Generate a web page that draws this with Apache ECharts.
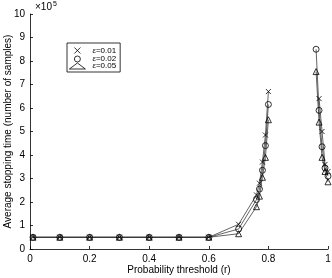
<!DOCTYPE html>
<html>
<head>
<meta charset="utf-8">
<script src="https://cdn.jsdelivr.net/npm/echarts@6/dist/echarts.min.js"></script>
<style>
html,body{margin:0;padding:0;background:#fff;}
#chart{width:332px;height:278px;}
</style>
</head>
<body>
<div id="chart"></div>
<script>
// Values in units of 10^5 samples
var seriesNames = ['ε=0.01', 'ε=0.02', 'ε=0.05'];
var xTicks = [0, 0.2, 0.4, 0.6, 0.8, 1];
var yTicks = [0, 1, 2, 3, 4, 5, 6, 7, 8, 9, 10];

var xLeft = [0.01, 0.1, 0.2, 0.3, 0.4, 0.5, 0.6, 0.7, 0.76, 0.77, 0.78, 0.79, 0.8];
var yLeft001 = [0.5, 0.5, 0.5, 0.5, 0.5, 0.5, 0.5, 1.05, 2.3, 2.8, 3.7, 4.85, 6.7];
var yLeft002 = [0.5, 0.5, 0.5, 0.5, 0.5, 0.5, 0.5, 0.85, 2.1, 2.55, 3.35, 4.4, 6.15];
var yLeft005 = [0.5, 0.5, 0.5, 0.5, 0.5, 0.5, 0.5, 0.65, 1.8, 2.25, 3.05, 3.9, 5.5];

var xRight001 = [0.97, 0.98, 0.99, 1.0];
var yRight001 = [6.4, 5.0, 3.6, 3.3];
var xRight002 = [0.96, 0.97, 0.98, 0.99, 1.0];
var yRight002 = [8.5, 5.9, 4.35, 3.45, 3.1];
var xRight005 = [0.96, 0.97, 0.98, 0.99, 1.0];
var yRight005 = [7.55, 5.4, 3.9, 3.3, 2.86];

var crossPath = 'path://M0,0L10,10M10,0L0,10';
var symbols = [crossPath, 'circle', 'triangle'];
var symbolSizes = [5, 6, 6];

function pairs(xs, ys) {
  return xs.map(function (x, i) { return [x, ys[i]]; });
}

var branches = [
  [pairs(xLeft, yLeft001), pairs(xRight001, yRight001)],
  [pairs(xLeft, yLeft002), pairs(xRight002, yRight002)],
  [pairs(xLeft, yLeft005), pairs(xRight005, yRight005)]
];

var series = [];
branches.forEach(function (b, k) {
  b.forEach(function (data) {
    series.push({
      name: seriesNames[k],
      type: 'line',
      data: data,
      symbol: symbols[k],
      symbolSize: symbolSizes[k],
      showAllSymbol: true,
      animation: false,
      lineStyle: { color: '#222', width: 0.7 },
      itemStyle: { color: 'rgba(0,0,0,0)', borderColor: '#000', borderWidth: 0.8 },
      emphasis: { disabled: true }
    });
  });
});

var chart = echarts.init(document.getElementById('chart'), null, { renderer: 'canvas' });
var fontFam = 'Liberation Sans, Arial, sans-serif';
chart.setOption({
  backgroundColor: '#fff',
  animation: false,
  title: {
    text: '×10{s|5}',
    left: 35,
    top: 1,
    padding: 0,
    textStyle: {
      fontFamily: fontFam, fontSize: 10, fontWeight: 'normal', color: '#000',
      rich: { s: { fontSize: 7, verticalAlign: 'top', padding: [0, 0, 6, 1], fontFamily: fontFam, color: '#000' } }
    }
  },
  legend: {
    orient: 'vertical',
    left: 67,
    top: 43,
    padding: [2, 4, 2, 2],
    itemGap: -1,
    itemWidth: 16,
    itemHeight: 6,
    borderColor: '#000',
    borderWidth: 0.8,
    backgroundColor: '#fff',
    selectedMode: false,
    data: [
      { name: seriesNames[0], icon: crossPath, itemStyle: { color: 'none', borderColor: '#000', borderWidth: 0.8 } },
      { name: seriesNames[1], icon: 'circle', itemStyle: { color: '#fff', borderColor: '#000', borderWidth: 0.8 } },
      { name: seriesNames[2], icon: 'triangle', itemStyle: { color: '#fff', borderColor: '#000', borderWidth: 0.8 } }
    ],
    formatter: function (name) { return '{e|ε}' + name.slice(1); },
    textStyle: {
      fontFamily: fontFam, fontSize: 8, lineHeight: 8, color: '#000', padding: [0, 0, 0, 2],
      rich: { e: { fontStyle: 'italic', fontFamily: fontFam, fontSize: 8, lineHeight: 8, color: '#000' } }
    }
  },
  grid: { left: 30, right: 4, top: 14, bottom: 29, containLabel: false, outerBoundsMode: 'none' },
  xAxis: {
    type: 'value',
    min: 0, max: 1, interval: 0.2,
    name: 'Probability threshold (r)',
    nameLocation: 'middle',
    nameGap: 16,
    nameMoveOverlap: false,
    nameTextStyle: { fontFamily: fontFam, fontSize: 10, color: '#000' },
    axisLine: { lineStyle: { color: '#000', width: 0.8 } },
    axisTick: { inside: true, length: 3, lineStyle: { color: '#000', width: 0.8 } },
    axisLabel: {
      fontFamily: fontFam, fontSize: 10, color: '#000', margin: 5,
      formatter: function (v) { return xTicks.indexOf(v) >= 0 ? String(v) : ''; }
    },
    splitLine: { show: false }
  },
  yAxis: {
    type: 'value',
    min: 0, max: 10, interval: 1,
    name: 'Average stopping time (number of samples)',
    nameLocation: 'middle',
    nameRotate: 90,
    nameGap: 17,
    nameMoveOverlap: false,
    nameTextStyle: { fontFamily: fontFam, fontSize: 10, color: '#000' },
    axisLine: { show: true, lineStyle: { color: '#000', width: 0.8 } },
    axisTick: { show: true, inside: true, length: 3, lineStyle: { color: '#000', width: 0.8 } },
    axisLabel: {
      fontFamily: fontFam, fontSize: 10, color: '#000', margin: 5,
      formatter: function (v) { return yTicks.indexOf(v) >= 0 ? String(v) : ''; }
    },
    splitLine: { show: false }
  },
  series: series
});
</script>
</body>
</html>
